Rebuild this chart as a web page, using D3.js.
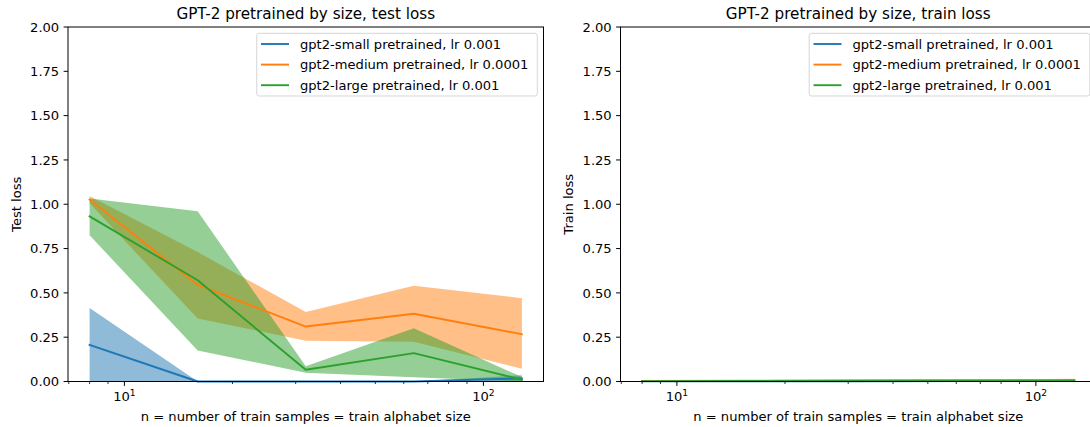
<!DOCTYPE html>
<html><head><meta charset="utf-8">
<script src="https://cdn.jsdelivr.net/npm/d3@7"></script>
<style>
html,body{margin:0;padding:0;background:#fff;}
svg{display:block;font-family:"DejaVu Sans",sans-serif;}
</style></head>
<body><svg id="chart" width="1090" height="427"></svg>
<script>
// ---------- data ----------
const nSamples = [8, 16, 32, 64, 128];
const seriesNames = ["gpt2-small pretrained, lr 0.001", "gpt2-medium pretrained, lr 0.0001", "gpt2-large pretrained, lr 0.001"];
const seriesColors = ["#1f77b4", "#ff7f0e", "#2ca02c"];

// test loss (mean, lower, upper)
const testSmallMean  = [0.207, 0.0, 0.0, 0.0, 0.017];
const testSmallLow   = [0.0, 0.0, 0.0, 0.0, 0.0];
const testSmallHigh  = [0.414, 0.0, 0.0, 0.0, 0.035];
const testMediumMean = [1.026, 0.545, 0.31, 0.382, 0.267];
const testMediumLow  = [1.005, 0.355, 0.23, 0.224, 0.072];
const testMediumHigh = [1.047, 0.73, 0.392, 0.54, 0.47];
const testLargeMean  = [0.932, 0.571, 0.066, 0.16, 0.01];
const testLargeLow   = [0.825, 0.175, 0.049, 0.024, 0.0];
const testLargeHigh  = [1.032, 0.96, 0.086, 0.30, 0.025];

// train loss (mean, lower, upper)
const trainSmallMean  = [0.001, 0.001, 0.001, 0.002, 0.002];
const trainSmallLow   = [0.0, 0.0, 0.0, 0.001, 0.001];
const trainSmallHigh  = [0.002, 0.002, 0.002, 0.003, 0.003];
const trainMediumMean = [0.003, 0.004, 0.006, 0.007, 0.009];
const trainMediumLow  = [0.001, 0.002, 0.003, 0.004, 0.004];
const trainMediumHigh = [0.005, 0.006, 0.009, 0.011, 0.016];
const trainLargeMean  = [0.002, 0.003, 0.004, 0.004, 0.005];
const trainLargeLow   = [0.001, 0.002, 0.003, 0.003, 0.003];
const trainLargeHigh  = [0.003, 0.004, 0.005, 0.005, 0.007];

const yTicks = [0, 0.25, 0.5, 0.75, 1.0, 1.25, 1.5, 1.75, 2.0];
const xMajorTicks = [10, 100];
const xMajorExp = ["1", "2"];
const titles = ["GPT-2 pretrained by size, test loss", "GPT-2 pretrained by size, train loss"];
const yLabels = ["Test loss", "Train loss"];
const xLabel = "n = number of train samples = train alphabet size";

// ---------- drawing ----------
const svg = d3.select("#chart");
const FS = 13.1;

function panel(left, title, ylab, means, lows, highs) {
  const top = 27, W = 475.5, H = 354.5;
  const g = svg.append("g").attr("transform", `translate(${left},${top})`);
  const lo = Math.log10(d3.min(nSamples)), hi = Math.log10(d3.max(nSamples));
  const m = 0.05 * (hi - lo);
  const x = d3.scaleLog().domain([Math.pow(10, lo - m), Math.pow(10, hi + m)]).range([0, W]);
  const y = d3.scaleLinear().domain([0, 2]).range([H, 0]);

  // fills
  means.forEach((mean, i) => {
    const pts = nSamples.map((n, k) => ({n, lo: lows[i][k], hi: highs[i][k]}));
    g.append("path").datum(pts)
      .attr("d", d3.area().x(d => x(d.n)).y0(d => y(d.lo)).y1(d => y(d.hi)))
      .attr("fill", seriesColors[i]).attr("fill-opacity", 0.5).attr("stroke", "none");
  });
  // lines
  means.forEach((mean, i) => {
    const pts = nSamples.map((n, k) => ({n, v: mean[k]}));
    g.append("path").datum(pts)
      .attr("d", d3.line().x(d => x(d.n)).y(d => y(d.v)))
      .attr("fill", "none").attr("stroke", seriesColors[i]).attr("stroke-width", 1.9)
      .attr("stroke-linecap", "square").attr("stroke-linejoin", "round");
  });

  // y axis ticks
  yTicks.forEach(t => {
    g.append("line").attr("x1", -4.4).attr("x2", 0).attr("y1", y(t)).attr("y2", y(t))
      .attr("stroke", "#000").attr("stroke-width", 1);
    g.append("text").attr("x", -8.8).attr("y", y(t)).attr("dy", "0.36em")
      .attr("text-anchor", "end").attr("font-size", FS).text(t.toFixed(2));
  });
  // x axis minor ticks
  const [d0, d1] = x.domain();
  const minors = [];
  for (let e = 0; e <= 2; e++) for (let k = 2; k <= 9; k++) {
    const v = k * Math.pow(10, e);
    if (v >= d0 && v <= d1) minors.push(v);
  }
  minors.forEach(v => {
    g.append("line").attr("x1", x(v)).attr("x2", x(v)).attr("y1", H).attr("y2", H + 2.5)
      .attr("stroke", "#000").attr("stroke-width", 0.8);
  });
  xMajorTicks.forEach((v, i) => {
    g.append("line").attr("x1", x(v)).attr("x2", x(v)).attr("y1", H).attr("y2", H + 4.4)
      .attr("stroke", "#000").attr("stroke-width", 1);
    const t = g.append("text").attr("x", x(v)).attr("y", H + 19.5)
      .attr("text-anchor", "middle").attr("font-size", FS);
    t.append("tspan").text("10");
    t.append("tspan").attr("font-size", FS * 0.7).attr("dy", -5).text(xMajorExp[i]);
  });

  // spines
  g.append("rect").attr("x", 0).attr("y", 0).attr("width", W).attr("height", H)
    .attr("fill", "none").attr("stroke", "#000").attr("stroke-width", 1);

  // title & labels
  g.append("text").attr("x", W / 2).attr("y", -8.5).attr("text-anchor", "middle")
    .attr("font-size", 15.2).text(title);
  g.append("text").attr("x", W / 2).attr("y", H + 39.5).attr("text-anchor", "middle")
    .attr("font-size", FS).text(xLabel);
  g.append("text").attr("transform", `translate(-47.5,${H / 2}) rotate(-90)`)
    .attr("text-anchor", "middle").attr("font-size", FS).text(ylab);

  // legend
  const lx = W - 286.8, ly = 6.3, lw = 280.6, lh = 62.7;
  const lg = g.append("g").attr("transform", `translate(${lx},${ly})`);
  lg.append("rect").attr("width", lw).attr("height", lh).attr("rx", 2.5)
    .attr("fill", "#fff").attr("fill-opacity", 0.8)
    .attr("stroke", "#cccccc").attr("stroke-opacity", 0.8).attr("stroke-width", 1);
  seriesNames.forEach((name, i) => {
    const cy = 10.7 + i * 20.6;
    lg.append("line").attr("x1", 4.3).attr("x2", 32.3).attr("y1", cy).attr("y2", cy)
      .attr("stroke", seriesColors[i]).attr("stroke-width", 1.9);
    lg.append("text").attr("x", 43.3).attr("y", cy).attr("dy", "0.36em")
      .attr("font-size", FS).text(name);
  });
}

panel(68, titles[0], yLabels[0],
  [testSmallMean, testMediumMean, testLargeMean],
  [testSmallLow, testMediumLow, testLargeLow],
  [testSmallHigh, testMediumHigh, testLargeHigh]);
panel(620.5, titles[1], yLabels[1],
  [trainSmallMean, trainMediumMean, trainLargeMean],
  [trainSmallLow, trainMediumLow, trainLargeLow],
  [trainSmallHigh, trainMediumHigh, trainLargeHigh]);
</script></body></html>
